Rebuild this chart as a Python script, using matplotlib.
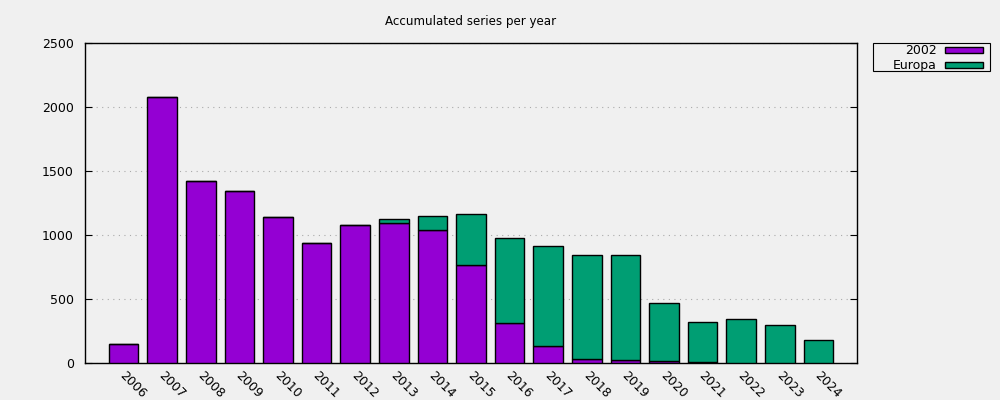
import matplotlib
matplotlib.use("Agg")
import matplotlib.pyplot as plt
from matplotlib.patches import Rectangle
import matplotlib.transforms as mtransforms
import numpy as np

# values
years = ["2006", "2007", "2008", "2009", "2010", "2011", "2012", "2013", "2014",
         "2015", "2016", "2017", "2018", "2019", "2020", "2021", "2022", "2023", "2024"]
s2002 = [148, 2078, 1422, 1344, 1143, 940, 1081, 1091, 1037,
         763, 310, 130, 34, 26, 18, 4, 3, 3, 0]
europa = [0, 0, 0, 0, 0, 0, 0, 34, 111,
          401, 664, 781, 810, 818, 448, 314, 341, 291, 177]
series_names = ["2002", "Europa"]

purple = "#9400d3"
green = "#009e73"
bg = "#f0f0f0"

plt.rcParams['font.family'] = 'DejaVu Sans'
fig = plt.figure(figsize=(10, 4), dpi=100, facecolor=bg)
ax = fig.add_axes([0.085, 0.0925, 0.772, 0.8], facecolor=bg)

x = np.arange(len(years))
w = 0.77
ax.bar(x, s2002, width=w, color=purple, edgecolor="black", linewidth=1.0, zorder=3)
ax.bar(x, europa, bottom=s2002, width=w, color=green, edgecolor="black", linewidth=1.0, zorder=3)

ax.set_xlim(-1, len(years))
ax.set_ylim(0, 2500)
ax.set_yticks(np.arange(0, 2501, 500))
ax.yaxis.grid(True, linestyle=(0, (1, 4)), color="#aaaaaa", linewidth=0.8, zorder=0)
ax.tick_params(axis="y", direction="in", length=5, right=True, labelsize=9, pad=8)
ax.set_xticks(x)
ax.set_xticklabels(years, rotation=-45, ha="left", va="top", rotation_mode="anchor", fontsize=9)
ax.tick_params(axis="x", length=0, pad=4)
# nudge the rotated year labels a little to the right, like gnuplot
shift = mtransforms.ScaledTranslation(3 / 100, 0, fig.dpi_scale_trans)
for lab in ax.get_xticklabels():
    lab.set_transform(lab.get_transform() + shift)
for sp in ax.spines.values():
    sp.set_linewidth(1.0)

fig.text(0.471, 0.945, "Accumulated series per year", ha="center", va="center", fontsize=8.6)

# gnuplot style key box, drawn in figure pixels
W, H = 1000.0, 400.0
def fx(px):
    return px / W
def fy(py):
    return 1 - py / H

fig.patches.append(Rectangle((fx(873), fy(71)), fx(990) - fx(873), fy(43) - fy(71),
                             transform=fig.transFigure, facecolor="none",
                             edgecolor="black", linewidth=0.8))
for i, (name, col) in enumerate(zip(series_names, [purple, green])):
    yc = 50 + i * 15
    fig.text(fx(937), fy(yc), name, ha="right", va="center", fontsize=9)
    fig.patches.append(Rectangle((fx(945), fy(yc + 3)), fx(983) - fx(945), fy(yc - 3) - fy(yc + 3),
                                 transform=fig.transFigure, facecolor=col,
                                 edgecolor="black", linewidth=1.0))

fig.savefig("out.png", dpi=100, facecolor=bg)
